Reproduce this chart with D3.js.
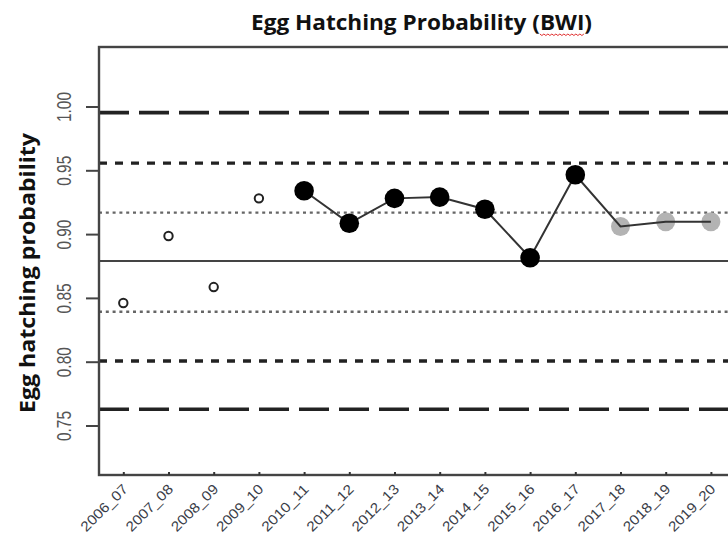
<!DOCTYPE html>
<html>
<head>
<meta charset="utf-8">
<script src="https://cdn.jsdelivr.net/npm/d3@7"></script>
<style>
  html, body { margin: 0; padding: 0; background: #fff; }
  svg { display: block; }
</style>
</head>
<body>
<svg id="chart" width="728" height="538"></svg>
<script>
// ---------------- data ----------------
const categories = ["2006_07","2007_08","2008_09","2009_10","2010_11","2011_12","2012_13",
                    "2013_14","2014_15","2015_16","2016_17","2017_18","2018_19","2019_20"];
const observedYears  = ["2006_07","2007_08","2008_09","2009_10"];
const observedValues = [0.846, 0.8985, 0.8585, 0.928];
const modelYears     = ["2010_11","2011_12","2012_13","2013_14","2014_15","2015_16","2016_17"];
const modelValues    = [0.934, 0.9085, 0.928, 0.929, 0.9195, 0.8815, 0.9465];
const projYears      = ["2017_18","2018_19","2019_20"];
const projValues     = [0.906, 0.9097, 0.9097];
const yTicks         = [0.75, 0.80, 0.85, 0.90, 0.95, 1.00];
const meanLine       = 0.879;
const refUpper       = [0.9168, 0.9556, 0.9952];   // +1, +2, +3 sd
const refLower       = [0.8392, 0.8006, 0.7627];   // -1, -2, -3 sd
const titleText      = "Egg Hatching Probability (BWI)";
const yLabelText     = "Egg hatching probability";

// ---------------- layout ----------------
const svg = d3.select("#chart");
const mLeft = 99, mTop = 47, mBottom = 475, mRight = 780;

const x = d3.scalePoint().domain(categories).range([123.3, 710.9]);
const y = d3.scaleLinear().domain([0.75, 1.00]).range([425.5, 106.5]);

// reference lines
const refStyles = [
  { dash: "3,3.8", width: 2.4, color: "#666" },
  { dash: "8,8",   width: 3.4, color: "#222" },
  { dash: "30,10", width: 3.6, color: "#222" }
];
const refG = svg.append("g");
[refUpper, refLower].forEach(arr => {
  arr.forEach((v, i) => {
    const s = refStyles[i];
    refG.append("line")
      .attr("x1", mLeft).attr("x2", 728)
      .attr("y1", y(v)).attr("y2", y(v))
      .attr("stroke", s.color).attr("stroke-width", s.width)
      .attr("stroke-dasharray", s.dash);
  });
});
refG.append("line")
  .attr("x1", mLeft).attr("x2", 728)
  .attr("y1", y(meanLine)).attr("y2", y(meanLine))
  .attr("stroke", "#444").attr("stroke-width", 2);

// frame
svg.append("rect")
  .attr("x", mLeft).attr("y", mTop)
  .attr("width", mRight - mLeft).attr("height", mBottom - mTop)
  .attr("fill", "none").attr("stroke", "#444").attr("stroke-width", 2.4);

// y axis
const yAxis = svg.append("g").attr("transform", `translate(${mLeft},0)`)
  .call(d3.axisLeft(y).tickValues(yTicks).tickSize(13).tickFormat(d3.format(".2f")));
yAxis.select(".domain").remove();
yAxis.selectAll(".tick line").attr("stroke", "#444").attr("stroke-width", 2);
yAxis.selectAll(".tick text").remove();
yAxis.selectAll(".tick").each(function(d) {
  d3.select(this).append("text")
    .attr("transform", "translate(-28,0) rotate(-90)")
    .attr("text-anchor", "middle")
    .attr("font-family", "Liberation Sans, Arial, sans-serif")
    .attr("font-size", 21)
    .attr("fill", "#555")
    .attr("textLength", 30).attr("lengthAdjust", "spacingAndGlyphs")
    .text(d3.format(".2f")(d));
});

// x axis
const xAxis = svg.append("g").attr("transform", `translate(0,${mBottom})`)
  .call(d3.axisBottom(x).tickSize(-3).tickSizeOuter(0));
xAxis.select(".domain").remove();
xAxis.selectAll(".tick line").attr("stroke", "#333").attr("stroke-width", 2);
xAxis.selectAll(".tick text").remove();
xAxis.selectAll(".tick").append("text")
  .attr("transform", "translate(5,15) rotate(-45)")
  .attr("text-anchor", "end")
  .attr("font-family", "Liberation Sans, Arial, sans-serif")
  .attr("font-size", 14)
  .attr("fill", "#3a3d48")
  .attr("textLength", 60).attr("lengthAdjust", "spacingAndGlyphs")
  .text(d => d);

// projected points (gray)
svg.append("g").selectAll("circle")
  .data(projYears.map((c, i) => ({ c, v: projValues[i] })))
  .join("circle")
  .attr("cx", d => x(d.c)).attr("cy", d => y(d.v)).attr("r", 9.5)
  .attr("fill", "#b3b3b3");

// connecting line
const lineData = modelYears.map((c, i) => ({ c, v: modelValues[i] }))
  .concat(projYears.map((c, i) => ({ c, v: projValues[i] })));
svg.append("path")
  .datum(lineData)
  .attr("fill", "none").attr("stroke", "#333").attr("stroke-width", 2)
  .attr("d", d3.line().x(d => x(d.c)).y(d => y(d.v)));

// model points (black)
svg.append("g").selectAll("circle")
  .data(modelYears.map((c, i) => ({ c, v: modelValues[i] })))
  .join("circle")
  .attr("cx", d => x(d.c)).attr("cy", d => y(d.v)).attr("r", 9.8)
  .attr("fill", "#000");

// observed points (open)
svg.append("g").selectAll("circle")
  .data(observedYears.map((c, i) => ({ c, v: observedValues[i] })))
  .join("circle")
  .attr("cx", d => x(d.c)).attr("cy", d => y(d.v)).attr("r", 4.2)
  .attr("fill", "#fff").attr("stroke", "#222").attr("stroke-width", 2);

// title
const title = svg.append("text")
  .attr("x", 421.5).attr("y", 30)
  .attr("text-anchor", "middle")
  .attr("font-family", "Open Sans, sans-serif")
  .attr("font-weight", "bold")
  .attr("font-size", 22)
  .attr("fill", "#111")
  .attr("textLength", 341).attr("lengthAdjust", "spacingAndGlyphs")
  .text(titleText);

// spell-check squiggle under "BWI"
(function() {
  const node = title.node();
  const idx = titleText.indexOf("BWI");
  const s = node.getStartPositionOfChar(idx);
  const e = node.getEndPositionOfChar(idx + 2);
  const pts = [];
  let k = 0;
  for (let px = s.x; px <= e.x; px += 2, k++) pts.push([px, s.y + 4 + (k % 2 ? 1.5 : 0)]);
  svg.append("path").attr("d", d3.line()(pts))
    .attr("fill", "none").attr("stroke", "#e03030").attr("stroke-width", 1);
})();

// y label
svg.append("text")
  .attr("transform", "translate(35,273) rotate(-90)")
  .attr("text-anchor", "middle")
  .attr("font-family", "Open Sans, sans-serif")
  .attr("font-weight", "bold")
  .attr("font-size", 22)
  .attr("fill", "#111")
  .attr("textLength", 280).attr("lengthAdjust", "spacingAndGlyphs")
  .text(yLabelText);
</script>
</body>
</html>
